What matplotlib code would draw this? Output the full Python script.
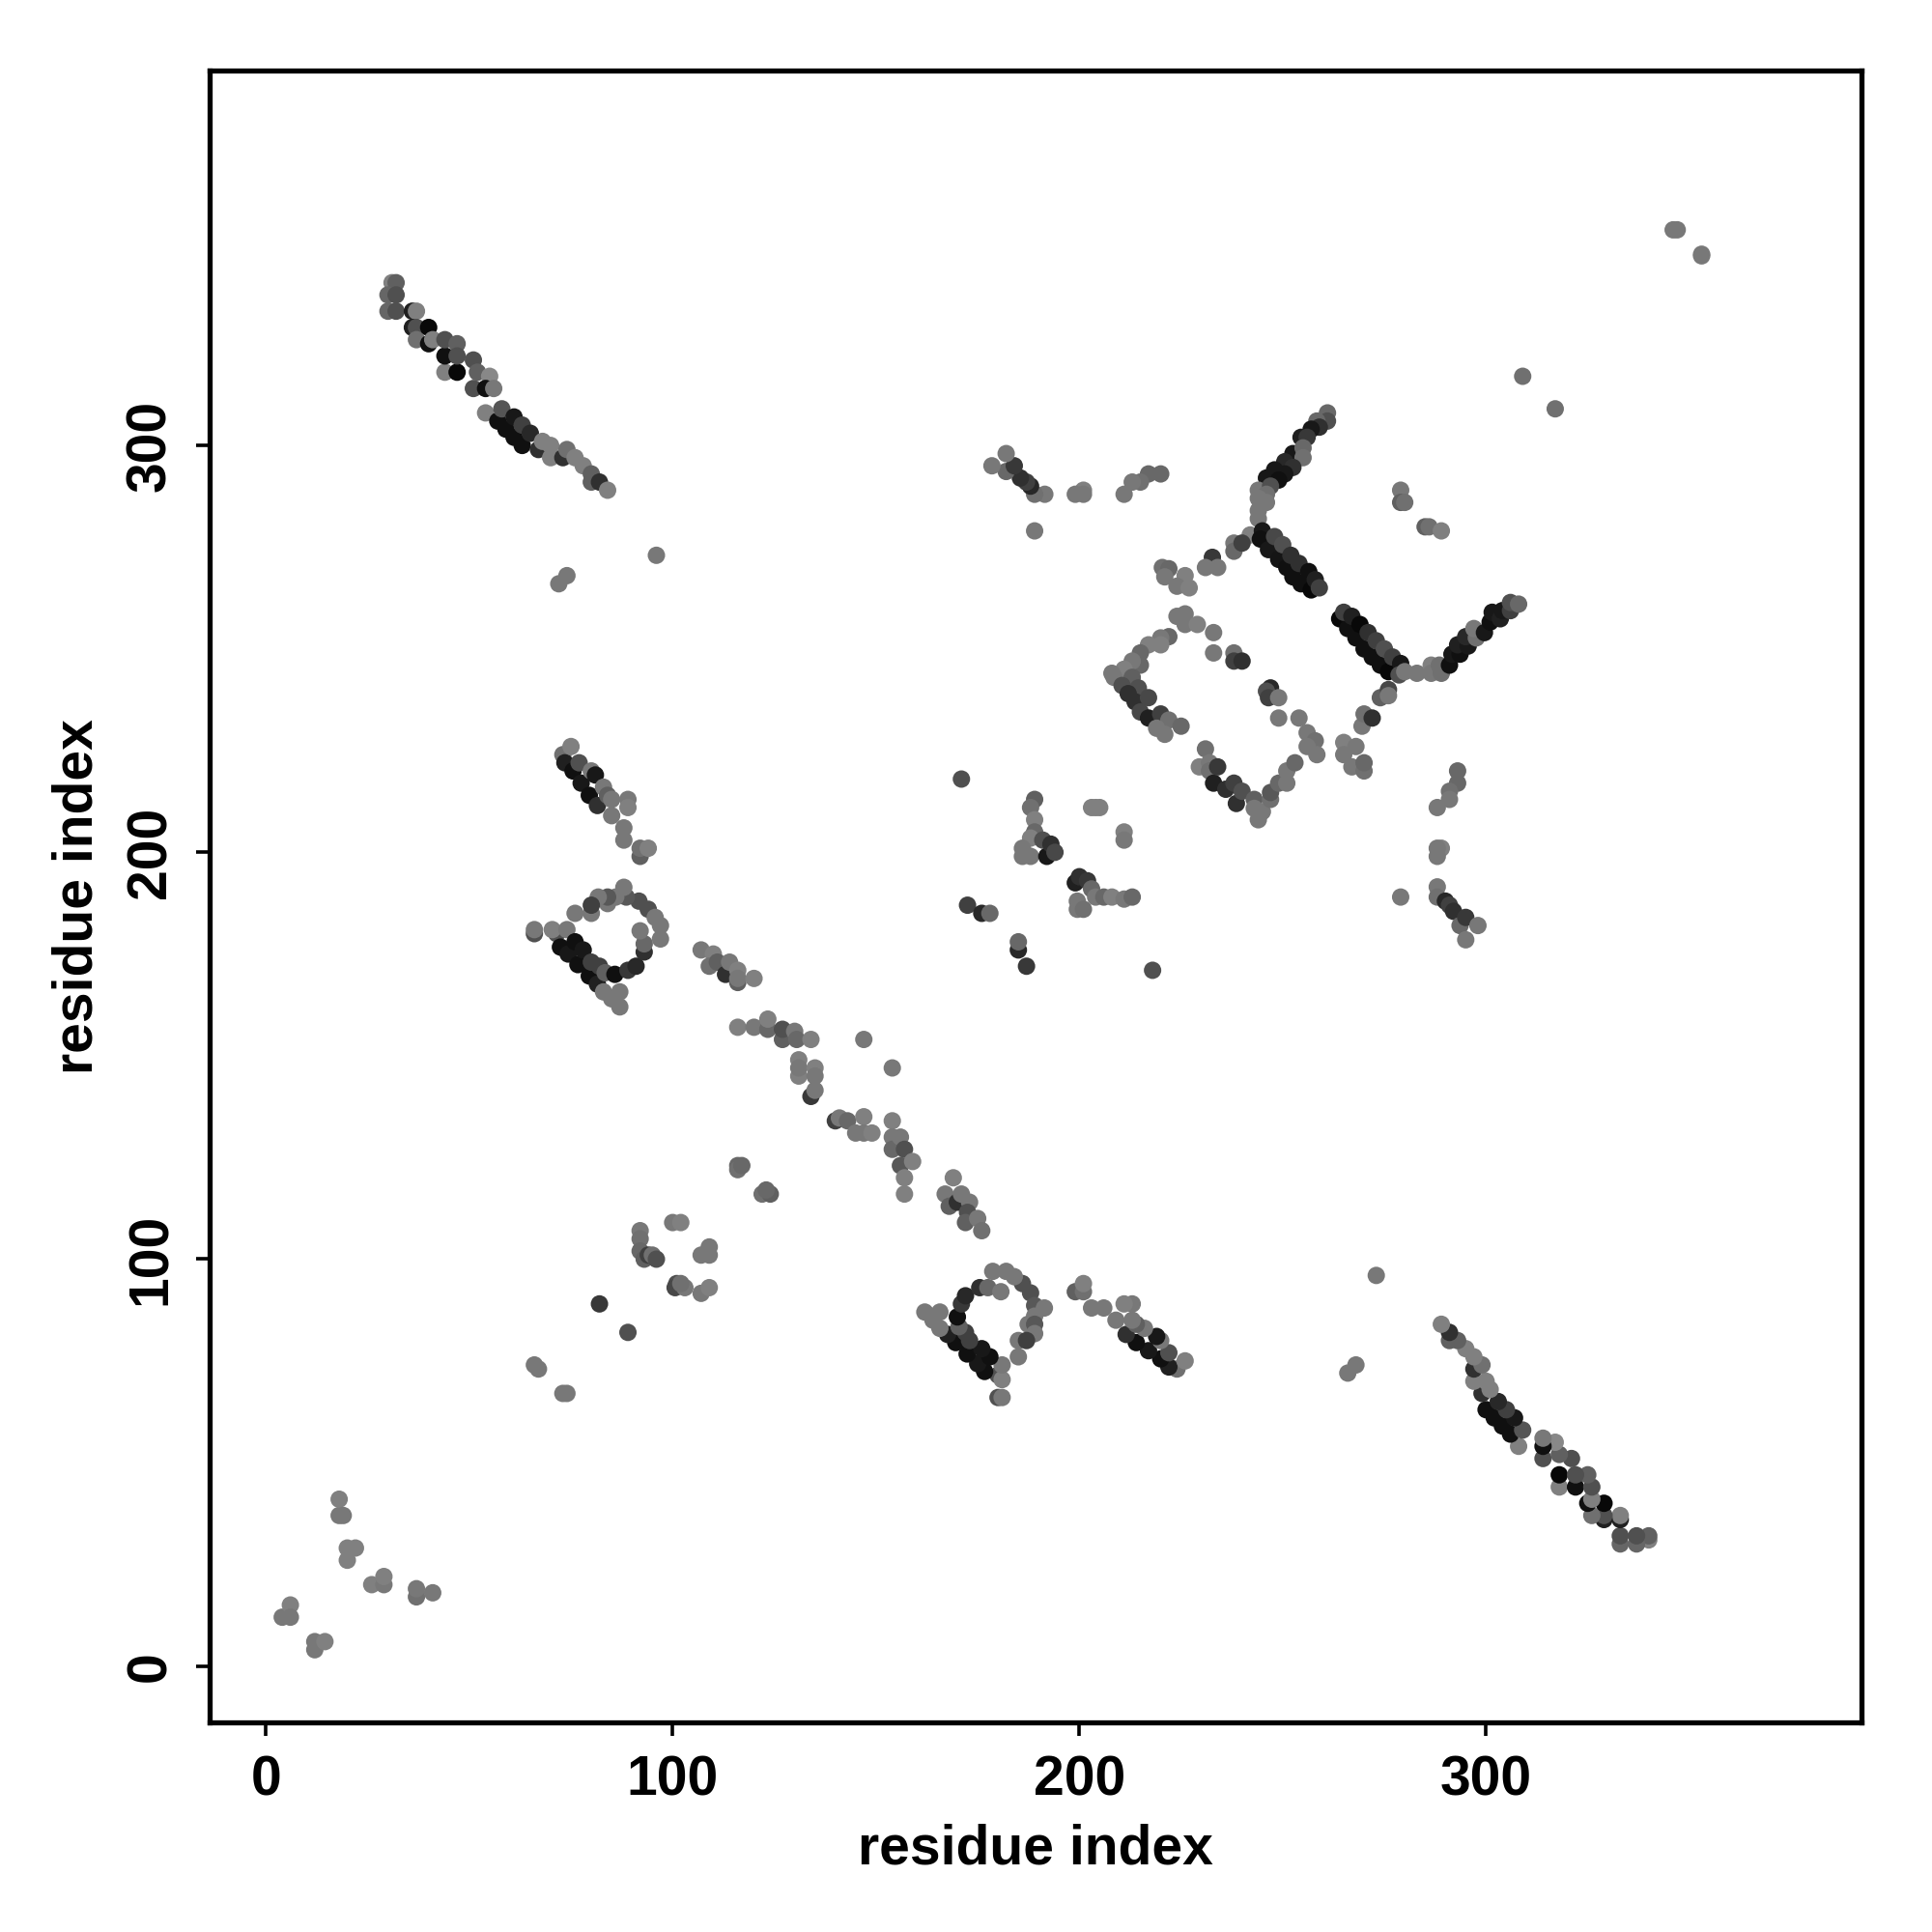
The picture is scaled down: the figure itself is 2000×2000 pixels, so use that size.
import matplotlib
matplotlib.use("Agg")
import numpy as np
import matplotlib.pyplot as plt

plt.rcParams["font.family"] = ["Liberation Sans", "DejaVu Sans"]

# -------------------------------------------------
# Contacts: (residue i, residue j, grey level)
# -------------------------------------------------

# these two are drawn twice, once flipped over the diagonal
long_strand = [
    (31, 340, 0x80), (32, 340, 0x60), (30, 337, 0x66), (32, 337, 0x50), (30, 333, 0x66), (32, 333, 0x50),
    (36, 333, 0x20), (37, 333, 0x80), (36, 329, 0x20), (37, 329, 0x50), (37, 326, 0x70), (40, 325, 0x10),
    (40, 329, 0x08), (41, 326, 0x80), (44, 318, 0x80), (44, 322, 0x10), (44, 326, 0x50), (47, 318, 0x08),
    (47, 325, 0x60), (47, 322, 0x50), (51, 321, 0x50), (51, 314, 0x50), (52, 318, 0x60), (54, 308, 0x80),
    (55, 317, 0x88), (54, 314, 0x10), (56, 314, 0x78), (57, 306, 0x10), (58, 309, 0x55), (59, 304, 0x10),
    (61, 307, 0x18), (61, 302, 0x10), (63, 305, 0x40), (63, 300, 0x10), (65, 303, 0x28), (67, 299, 0x30),
    (68, 301, 0x80), (70, 297, 0x80), (70, 300, 0x80), (73, 297, 0x30), (74, 299, 0x70), (76, 297, 0x80),
    (78, 295, 0x80), (80, 291, 0x60), (80, 293, 0x60), (82, 291, 0x30), (84, 289, 0x80),
]
ring_strand = [
    (73, 224, 0x70), (73.5, 222, 0x20), (75.5, 220, 0x10), (77.5, 217, 0x18), (79.5, 214, 0x10),
    (81.5, 211.5, 0x30), (75, 226, 0x80), (77, 222, 0x50), (80, 220, 0x78), (81, 219, 0x18), (83, 216, 0x78),
    (84, 214, 0x60), (85, 213, 0x78), (89, 213, 0x78), (89, 211, 0x80), (85, 209, 0x78), (88, 206, 0x78),
    (88, 203, 0x78), (92, 199, 0x60), (92, 201, 0x70), (94, 201, 0x80),
    (66, 180, 0x50), (66, 181, 0x78), (71.5, 180, 0x50), (70.4, 181, 0x80), (74, 181, 0x78),
    (72.4, 176.7, 0x10), (74.3, 175, 0x18), (76.7, 172.4, 0x10), (79.5, 169.6, 0x10), (81.5, 167.6, 0x20),
    (76, 178, 0x10), (78, 176, 0x18), (80, 173, 0x40), (82, 172, 0x40), (83.4, 170.4, 0x60), (85.8, 170, 0x10),
    (83, 165.7, 0x78), (85, 164, 0x78), (87, 162, 0x78), (87, 165.7, 0x78), (89, 171, 0x38), (91, 172, 0x28),
    (93, 175.5, 0x30), (93, 177.5, 0x68), (92, 180.7, 0x78), (97, 178.7, 0x78), (97, 182, 0x78),
    (94, 186, 0x50), (91.7, 188, 0x50), (88.6, 189, 0x58), (88, 191.4, 0x78), (95.7, 184, 0x78),
    (86, 189, 0x78), (84, 187.4, 0x78), (84, 189, 0x58), (81.7, 189, 0x78), (80, 185, 0x78), (80, 187, 0x40),
    (76, 185, 0x78),
]
side_patch = [
    (288, 191.5, 0x78), (288, 189, 0x70), (290, 188, 0x28), (291, 187, 0x40), (292, 185.5, 0x30),
    (293.6, 182, 0x68), (295, 184, 0x38), (295, 178.5, 0x78), (298, 182, 0x78), (279, 189, 0x78),
    (293, 220, 0x68), (293, 217, 0x68), (291, 215, 0x70), (291, 213, 0x78), (288, 211, 0x78),
    (289, 201, 0x80), (288, 201, 0x78), (288, 199, 0x78),
    (96, 273, 0x78), (72, 266, 0x78), (74, 268, 0x78),
]

# these sit across the diagonal already, both halves are listed
anti_diagonal = [
    (107, 176, 0x78), (110, 175, 0x80), (109, 172, 0x70), (111, 173, 0x60), (113, 170, 0x30), (114, 173, 0x78),
    (116, 168, 0x60), (116, 171, 0x80), (116, 169, 0x78), (120, 169, 0x80),
    (116, 157, 0x80), (120, 157, 0x78), (123.4, 156.5, 0x68), (123.4, 159, 0x80), (127, 154, 0x60),
    (127, 156.5, 0x50), (130, 156, 0x78), (130.5, 154, 0x68), (134, 154, 0x80), (147, 154, 0x78), (154, 147, 0x78),
    (131, 149, 0x80), (131, 145, 0x80), (131, 147, 0x78), (134, 140, 0x38), (135, 147, 0x80), (135, 145, 0x78),
    (135, 141.5, 0x78), (140, 134, 0x40), (141, 134.7, 0x78), (143, 134, 0x68), (147, 135, 0x80), (145, 131, 0x78),
    (147, 131, 0x78), (149, 131, 0x80), (154, 134, 0x80), (154, 130, 0x78), (154, 127, 0x68), (156, 130, 0x78),
    (157, 127, 0x50), (156, 123, 0x58), (159, 124, 0x80), (157, 120, 0x80), (157, 116, 0x80),
    (169, 120, 0x80), (167, 116, 0x78), (168, 113, 0x60), (170, 114, 0x30), (171, 116, 0x78), (173, 114, 0x78),
    (172.5, 111.5, 0x50), (172, 109, 0x60), (175, 110, 0x78), (176, 107, 0x70),
    (116, 123, 0x68), (116, 122, 0x70), (117, 123, 0x68), (122, 116, 0x70), (124, 116, 0x60), (123, 117, 0x68),
]
middle_patch = [
    (189, 213, 0x60), (188, 211, 0x70), (189, 208, 0x80), (189, 205, 0x68), (188, 203.5, 0x80), (186, 201, 0x78),
    (186, 199, 0x78), (188, 199, 0x78), (191, 203, 0x50), (192, 199, 0x18), (193, 202, 0x30), (194, 200, 0x48),
    (203, 211, 0x80), (204, 211, 0x80), (205, 211, 0x80), (211, 205, 0x80), (211, 203, 0x78),
    (199, 192.5, 0x20), (200, 194, 0x30), (202, 193, 0x38), (203, 191, 0x68), (199.5, 188, 0x78),
    (199.5, 186, 0x78), (201, 186, 0x70), (204, 189, 0x78), (206, 189, 0x68), (208, 189, 0x80), (211, 188.5, 0x78),
    (213, 189, 0x68), (172.5, 187, 0x40), (176, 185, 0x28), (178, 185, 0x68), (185, 176, 0x28), (185, 178, 0x68),
    (187, 172, 0x38), (218, 171, 0x50), (171, 218, 0x50),
]
small_ring = [
    (92, 107, 0x78), (92, 105, 0x70), (92, 102, 0x68), (93, 100, 0x60), (94, 101, 0x40), (95, 101, 0x70),
    (96, 100, 0x50), (100, 109, 0x78), (102, 109, 0x80), (101, 94, 0x50), (100.6, 93, 0x48), (103, 93, 0x78),
    (102, 94, 0x70), (107, 91.6, 0x78), (109, 93, 0x80), (107, 101, 0x78), (109, 101, 0x78), (109, 103, 0x78),
]
far_points = [
    (4, 12, 0x78), (6, 15, 0x80), (6, 12, 0x78), (12, 4, 0x78), (12, 6, 0x78), (14.5, 6, 0x80),
    (18, 37, 0x78), (18, 41, 0x80), (19, 37, 0x78), (20, 26, 0x80), (20, 29, 0x80), (22, 29, 0x80),
    (26, 20, 0x80), (29, 20, 0x78), (29, 22, 0x80), (37, 17, 0x70), (37, 19, 0x78), (41, 18, 0x78),
    (66, 74, 0x78), (67, 73, 0x78), (73, 67, 0x78), (74, 67, 0x78), (82, 89, 0x38), (89, 82, 0x50),
    (346, 353, 0x78), (347, 353, 0x78), (353, 346.6, 0x78), (353, 347, 0x78), (309, 317, 0x70), (317, 309, 0x70),
]
main_diagonal = [
    (261, 308, 0x68), (261, 306, 0x50), (258.4, 306, 0x68), (259, 304.5, 0x30), (257, 304, 0x18), (254.5, 302, 0x20),
    (256, 302, 0x38), (252.5, 298, 0x18), (255, 299.4, 0x68), (255, 297, 0x70), (250.5, 296, 0x28), (252.5, 294.6, 0x30),
    (248, 294, 0x18), (246, 292, 0x18), (250.5, 293, 0x18), (249, 291.5, 0x10), (244, 289, 0x78), (247, 290, 0x50),
    (246, 288, 0x70), (244, 287, 0x78), (246, 286, 0x78), (244, 284, 0x78), (244, 282, 0x78),
    (242, 278, 0x80), (238, 276, 0x78), (238, 274, 0x68), (240, 276, 0x40), (245, 279, 0x18), (244.5, 277, 0x10),
    (246.5, 274.4, 0x18), (249, 272, 0x15), (251, 270, 0x10), (252.5, 267.7, 0x10), (254.5, 266, 0x10), (257, 264.5, 0x08),
    (248, 277.6, 0x48), (250, 275.6, 0x50), (252, 273, 0x30), (254, 271, 0x30), (256.4, 269, 0x10), (258, 267, 0x20),
    (259, 265, 0x40),
    (264, 257.4, 0x08), (266, 255, 0x10), (268, 252.7, 0x10), (270, 250, 0x10), (272, 248, 0x10), (274, 246, 0x10),
    (276, 244.4, 0x08), (265, 259, 0x40), (267, 258, 0x20), (269, 256, 0x08), (271, 254, 0x30), (273, 252, 0x40),
    (275, 250, 0x50), (277, 248, 0x40), (279, 246.4, 0x18), (278.6, 243.6, 0x50), (280, 244.4, 0x78), (283, 244, 0x78),
    (286.5, 246, 0x80), (286.5, 244, 0x78), (289, 244, 0x70), (288.5, 246, 0x70),
    (291, 246, 0x10), (291.6, 248.7, 0x18), (293.6, 248.7, 0x10), (293, 251, 0x20), (295.6, 250.7, 0x18), (295, 253, 0x28),
    (297.6, 252.7, 0x70), (297, 255, 0x78), (299.6, 254, 0x18), (301, 256.6, 0x10), (301.5, 259, 0x18), (303.5, 257.4, 0x20),
    (304, 259.4, 0x18), (306, 259.4, 0x40), (306, 261.4, 0x50), (308, 261, 0x68),
    (232.7, 272.5, 0x38), (231, 270, 0x78), (234, 270, 0x78), (220.4, 270, 0x70), (222, 269.7, 0x68), (221, 267.7, 0x78),
    (226, 268, 0x80), (224, 265.4, 0x78), (227, 265, 0x80), (224, 258, 0x78), (226, 258.6, 0x78), (226, 256, 0x78),
    (229, 256, 0x80), (233, 254, 0x78), (233, 249, 0x78), (238, 249, 0x70), (238, 247, 0x40), (240, 247, 0x30),
    (247, 240.4, 0x28), (246, 239.6, 0x50), (246.5, 238, 0x40), (249, 238, 0x78), (249, 233, 0x78), (254, 233, 0x78),
    (256, 229.4, 0x78), (258, 227.4, 0x70), (256, 226, 0x78), (258.4, 224, 0x78),
    (222, 253, 0x68), (220, 252.7, 0x78), (220, 251, 0x80), (217, 251, 0x80), (215, 249, 0x68), (215, 246, 0x68),
    (213, 247, 0x78), (211, 245, 0x80), (208, 244, 0x78), (208.5, 243, 0x78), (213, 243, 0x60), (210.5, 241, 0x50),
    (214.5, 240.4, 0x50), (212, 239, 0x30), (213.7, 237, 0x30), (217, 238, 0x48), (215, 234.5, 0x48), (217, 233, 0x20),
    (220, 234, 0x40), (222, 232.5, 0x70), (219, 230.5, 0x78), (221, 229, 0x78), (225, 231, 0x68),
    (231, 225.4, 0x70), (229.5, 221, 0x80), (232, 222, 0x78), (232, 220, 0x70), (233, 217, 0x20), (234, 221, 0x38),
    (236, 215.5, 0x30), (238, 217, 0x40), (238.6, 212, 0x30), (240, 215, 0x50), (243, 213, 0x60), (243, 210.8, 0x78),
    (244, 208, 0x78), (245, 210, 0x78), (247, 213, 0x70), (247, 214.7, 0x58), (249, 217, 0x68), (251, 217, 0x78),
    (251, 220, 0x78), (253, 222, 0x68),
    (265, 227, 0x80), (268, 226, 0x78), (265, 224, 0x78), (267, 221, 0x78), (270, 220, 0x70), (270, 222, 0x68),
    (269.5, 231, 0x78), (270, 234, 0x70), (272, 233, 0x30), (274, 238, 0x60), (276, 240, 0x48), (276, 238.5, 0x78),
    (279, 289, 0x78), (279, 286, 0x60), (280, 286, 0x70), (285, 280, 0x60), (286, 280, 0x70), (289, 279, 0x80),
]

tick_values = [0, 100, 200, 300]
axis_label = "residue index"

# -------------------------------------------------
# Both halves of the map
# -------------------------------------------------

mirrored = long_strand + ring_strand + side_patch
direct = anti_diagonal + middle_patch + small_ring + far_points + main_diagonal
points = mirrored + [(j, i, g) for i, j, g in mirrored] + direct

xs = np.array([p[0] for p in points])
ys = np.array([p[1] for p in points])
greys = [str(p[2] / 255) for p in points]

# -------------------------------------------------
# Plot
# -------------------------------------------------

fig = plt.figure(figsize=(10, 10), dpi=200)
ax = fig.add_axes([0.1084, 0.1084, 0.8553, 0.8552])

ax.scatter(xs, ys, s=42, c=greys, linewidths=0)

ax.set_xlim(-13.9, 392.4)
ax.set_ylim(-13.9, 392.2)
ax.set_xticks(tick_values)
ax.set_yticks(tick_values)
ax.set_yticklabels(tick_values, rotation=90, va="center")

for spine in ax.spines.values():
    spine.set_linewidth(1.9)

ax.tick_params(length=5, width=1.3, pad=7, labelsize=20.5)
for label in ax.get_xticklabels() + ax.get_yticklabels():
    label.set_fontweight("bold")

ax.set_xlabel(axis_label, fontsize=20.5, fontweight="bold", labelpad=6)
ax.set_ylabel(axis_label, fontsize=20.5, fontweight="bold", labelpad=8)

fig.savefig("out.png", dpi=200)
